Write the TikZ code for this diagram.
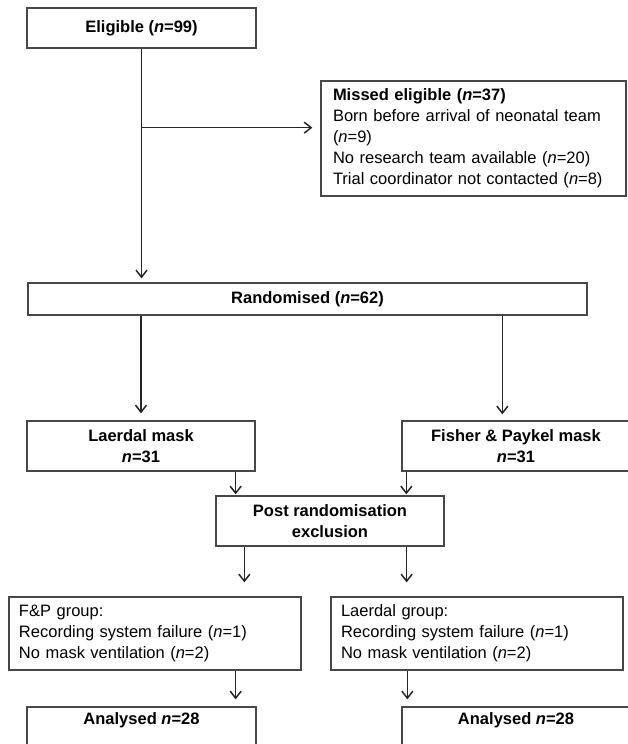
\documentclass[tikz,border=0pt]{standalone}
\usepackage{fontspec}
\setmainfont{Liberation Sans}
\usetikzlibrary{arrows.meta,positioning,calc}

\begin{document}
\begin{tikzpicture}[x=1pt,y=-1pt,
  box/.style={draw=black!72,line width=1.3pt,inner sep=0pt,align=center,
    font=\bfseries\fontsize{16.5}{20.5}\selectfont},
  listbox/.style={draw=black!72,line width=1.3pt,inner xsep=10pt,inner ysep=0pt,
    align=left,font=\fontsize{16.5}{21}\selectfont},
  arr/.style={draw=black!85,line width=1.5pt,-{Straight Barb[length=7pt,width=11pt]}}]
  \useasboundingbox (0,0) rectangle (627,744);
  \node[box,minimum width=229pt,minimum height=40pt] (elig) at (141.5,28) {Eligible (\textit{n}=99)};
  \node[listbox,inner xsep=12pt,text width=281pt,minimum height=115pt] (miss) at (473.5,138.5)
    {\textbf{Missed eligible (\textit{n}=37)}\\Born before arrival of neonatal team\\(\textit{n}=9)\\No research team available (\textit{n}=20)\\Trial coordinator not contacted (\textit{n}=8)};
  \node[box,minimum width=559pt,minimum height=32pt] (rand) at (307.5,299) {Randomised (\textit{n}=62)};
  \node[box,minimum width=228pt,minimum height=50pt] (laer) at (141,446) {Laerdal mask\\\textit{n}=31};
  \node[box,minimum width=228pt,minimum height=50pt] (fish) at (516,446) {Fisher \& Paykel mask\\\textit{n}=31};
  \node[box,minimum width=228pt,minimum height=50pt] (post) at (330,521) {Post randomisation\\exclusion};
  \node[listbox,text width=272pt,minimum height=73pt] (fpg) at (155,633.5)
    {F\&P group:\\Recording system failure (\textit{n}=1)\\No mask ventilation (\textit{n}=2)};
  \node[listbox,text width=272pt,minimum height=73pt] (lgr) at (477,633.5)
    {Laerdal group:\\Recording system failure (\textit{n}=1)\\No mask ventilation (\textit{n}=2)};
  \node[box,minimum width=229pt,minimum height=50pt] (an1) at (141.5,732) {Analysed \textit{n}=28\\\strut};
  \node[box,minimum width=228pt,minimum height=50pt] (an2) at (516,732) {Analysed \textit{n}=28\\\strut};

  \coordinate (br) at ($(elig.south)+(0,79)$);
  \draw[arr,shorten >=4pt] (elig.south) -- (elig.south |- rand.north);
  \draw[arr,shorten >=8pt] (br) -- (br -| miss.west);
  \draw[arr,shorten >=7pt] (laer.north |- rand.south) -- (laer.north);
  \coordinate (f1) at ([xshift=101pt]fish.north west);
  \draw[arr,shorten >=6pt] (f1 |- rand.south) -- (f1);
  \coordinate (l2) at ([xshift=-20pt]laer.south east);
  \draw[arr,shorten >=1pt] (l2) -- (l2 |- post.north);
  \coordinate (f2) at ([xshift=5pt]fish.south west);
  \draw[arr,shorten >=1pt] (f2) -- (f2 |- post.north);
  \coordinate (p1) at ([xshift=29pt]post.south west);
  \draw[arr,shorten >=14pt] (p1) -- (p1 |- fpg.north);
  \coordinate (p2) at ([xshift=-38pt]post.south east);
  \draw[arr,shorten >=14pt] (p2) -- (p2 |- lgr.north);
  \coordinate (g1) at ([xshift=-21pt]an1.north east);
  \draw[arr,shorten >=7pt] (g1 |- fpg.south) -- (g1);
  \coordinate (g2) at ([xshift=6pt]an2.north west);
  \draw[arr,shorten >=7pt] (g2 |- lgr.south) -- (g2);
\end{tikzpicture}
\end{document}
